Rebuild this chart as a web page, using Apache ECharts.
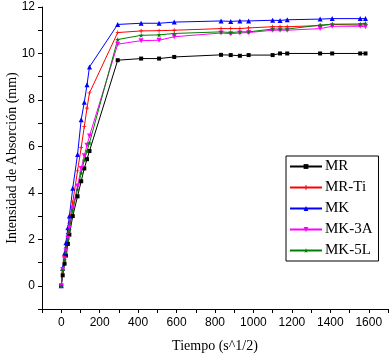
<!DOCTYPE html>
<html>
<head>
<meta charset="utf-8">
<script src="https://cdn.jsdelivr.net/npm/echarts@6/dist/echarts.min.js"></script>
<style>
  html, body { margin: 0; padding: 0; background: #fff; }
  #chart { width: 392px; height: 355px; }
</style>
</head>
<body>
<div id="chart"></div>
<script>
// tiempo en s^1/2
const tiempo = [0, 7.7, 17.3, 24.5, 34.6, 42.4, 60, 84.9, 103.9, 120, 134.2, 147,
  293.9, 415.7, 509.1, 587.9, 831.4, 881.8, 929.5, 974.9, 1099.8, 1138.4, 1175.8,
  1346.9, 1409.7, 1555.4, 1582.9];

const mr = [0, 0.45, 0.95, 1.3, 1.8, 2.2, 3.0, 3.85, 4.5, 5.05, 5.45, 5.8,
  9.71, 9.78, 9.78, 9.85, 9.94, 9.93, 9.9, 9.93, 9.93, 10.0, 10.0, 10.0, 10.0, 10.0, 10.0];
const mrTi = [0, 0.65, 1.25, 1.65, 2.25, 2.7, 3.6, 4.95, 5.95, 6.85, 7.65, 8.3,
  10.9, 10.97, 10.98, 11.0, 11.07, 11.07, 11.07, 11.1, 11.15, 11.15, 11.15, 11.2, 11.25, 11.22, 11.24];
const mk = [0, 0.75, 1.4, 1.85, 2.5, 3.0, 4.2, 5.65, 7.15, 7.9, 8.65, 9.42,
  11.25, 11.3, 11.3, 11.35, 11.4, 11.38, 11.4, 11.4, 11.43, 11.42, 11.45, 11.48, 11.5, 11.5, 11.5];
const mk3a = [0, 0.7, 1.15, 1.5, 2.05, 2.5, 3.35, 4.3, 5.05, 5.6, 6.05, 6.45,
  10.4, 10.55, 10.57, 10.72, 10.88, 10.85, 10.88, 10.9, 11.0, 11.0, 11.0, 11.07, 11.17, 11.17, 11.15];
const mk5l = [0, 0.65, 1.1, 1.45, 2.0, 2.4, 3.25, 4.15, 4.85, 5.4, 5.8, 6.15,
  10.6, 10.78, 10.8, 10.86, 10.93, 10.9, 10.93, 10.93, 11.05, 11.05, 11.05, 11.22, 11.26, 11.27, 11.3];

const xTicks = [0, 200, 400, 600, 800, 1000, 1200, 1400, 1600];
const yTicks = [0, 2, 4, 6, 8, 10, 12];

const plusPath = 'path://M4,0H6V4H10V6H6V10H4V6H0V4H4Z';
const starPath = 'path://M5,0L6.2,3.6L10,3.6L7,5.9L8.1,9.5L5,7.3L1.9,9.5L3,5.9L0,3.6L3.8,3.6Z';

function pares(ys) {
  return tiempo.map((t, i) => [t, ys[i]]);
}

function serie(name, ys, color, symbol, size, rotate) {
  return {
    name: name,
    type: 'line',
    data: pares(ys),
    symbol: symbol,
    symbolSize: size,
    symbolRotate: rotate || 0,
    showAllSymbol: true,
    lineStyle: { color: color, width: 1 },
    itemStyle: { color: color },
    animation: false
  };
}

let chart = echarts.init(document.getElementById('chart'));
chart.setOption({
  backgroundColor: '#fff',
  animation: false,
  grid: { left: 42, right: 4, top: 7, bottom: 46, outerBoundsMode: 'none', containLabel: false },
  legend: {
    orient: 'vertical',
    left: 286,
    top: 156,
    width: 86,
    padding: [3, 6, 3, 3],
    borderColor: '#000',
    borderWidth: 1,
    itemWidth: 32,
    itemHeight: 6,
    itemGap: 6,
    textStyle: { fontFamily: 'Liberation Serif', fontSize: 15, color: '#000', padding: [0, 0, 0, -2] },
    data: ['MR', 'MR-Ti', 'MK', 'MK-3A', 'MK-5L']
  },
  xAxis: {
    type: 'value',
    min: -100,
    max: 1700,
    interval: 100,
    name: 'Tiempo (s^1/2)',
    nameLocation: 'middle',
    nameGap: 30,
    nameMoveOverlap: false,
    nameTextStyle: { fontFamily: 'Liberation Serif', fontSize: 14, color: '#000' },
    axisLine: { onZero: false, lineStyle: { color: '#000', width: 1 } },
    axisTick: { show: true, length: 4, lineStyle: { color: '#000' } },
    axisLabel: {
      color: '#000', fontFamily: 'Liberation Sans', fontSize: 12, margin: 8,
      showMinLabel: true, showMaxLabel: true,
      formatter: v => xTicks.includes(v) ? String(v) : ''
    },
    splitLine: { show: false }
  },
  yAxis: {
    type: 'value',
    min: -1,
    max: 12,
    interval: 1,
    name: 'Intensidad de Absorción (mm)',
    nameLocation: 'middle',
    nameGap: 23,
    nameMoveOverlap: false,
    nameTextStyle: { fontFamily: 'Liberation Serif', fontSize: 14, color: '#000' },
    axisLine: { show: true, onZero: false, lineStyle: { color: '#000', width: 1 } },
    axisTick: { show: true, length: 4, lineStyle: { color: '#000' } },
    axisLabel: {
      color: '#000', fontFamily: 'Liberation Sans', fontSize: 12, margin: 7,
      formatter: v => yTicks.includes(v) ? String(v) : ''
    },
    splitLine: { show: false }
  },
  series: [
    serie('MR', mr, '#000000', 'rect', 4),
    serie('MR-Ti', mrTi, '#ff0000', plusPath, 4),
    serie('MK', mk, '#0000ff', 'triangle', 5),
    serie('MK-3A', mk3a, '#ff00ff', 'triangle', 5, 180),
    serie('MK-5L', mk5l, '#008000', starPath, 5)
  ]
});
</script>
</body>
</html>
